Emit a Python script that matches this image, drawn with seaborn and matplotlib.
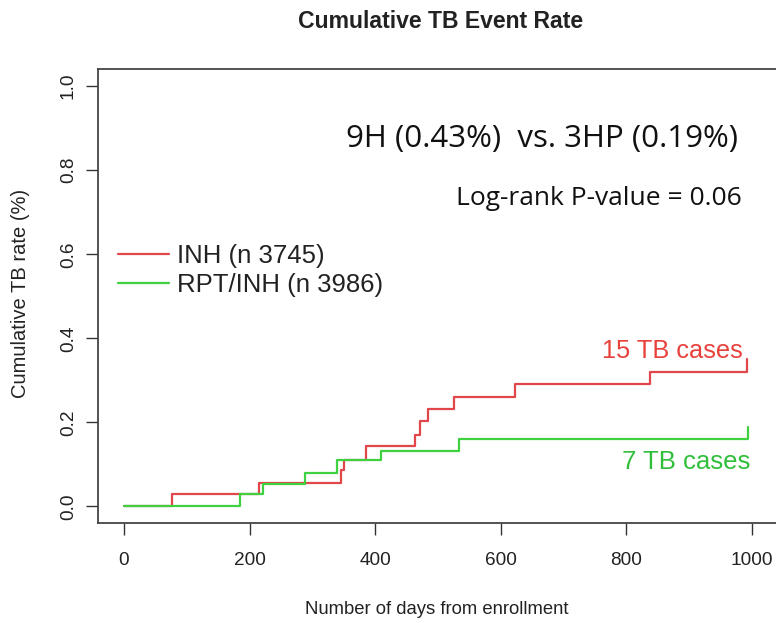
import numpy as np
import pandas as pd
import matplotlib
matplotlib.use("Agg")
import matplotlib.pyplot as plt
import seaborn as sns

# ---- data ----
inh_days = [0, 76, 215, 346, 350, 385, 463, 472, 484, 526, 622, 837, 992]
inh_rate = [0.0, 0.029, 0.056, 0.086, 0.111, 0.145, 0.171, 0.203, 0.233, 0.260, 0.292, 0.321, 0.352]
rpt_days = [0, 185, 222, 288, 339, 410, 534, 993]
rpt_rate = [0.0, 0.029, 0.054, 0.079, 0.110, 0.133, 0.161, 0.190]
group_labels = ["INH (n 3745)", "RPT/INH (n 3986)"]
x_ticks = [0, 200, 400, 600, 800, 1000]
y_ticks = [0.0, 0.2, 0.4, 0.6, 0.8, 1.0]
y_ticklabels = ["0.0", "0.2", "0.4", "0.6", "0.8", "1.0"]

df = pd.concat([
    pd.DataFrame({"day": inh_days, "rate": inh_rate, "group": group_labels[0]}),
    pd.DataFrame({"day": rpt_days, "rate": rpt_rate, "group": group_labels[1]}),
], ignore_index=True)

RED = "#e0464a"
GREEN = "#3fd13f"
RED_TXT = "#e8413c"
GREEN_TXT = "#2fbf3a"

sns.set_style("white")
plt.rcParams["font.family"] = ["Liberation Sans", "DejaVu Sans"]

W, H = 776, 623
fig = plt.figure(figsize=(W / 100, H / 100), dpi=100)
# axes box in pixels: left 98.3, right 777, top 69.3, bottom 523.3
ax = fig.add_axes([98.3 / W, (H - 523.3) / H, (777.1 - 98.3) / W, (523.3 - 69.3) / H])

sns.lineplot(data=df, x="day", y="rate", hue="group", palette=[RED, GREEN],
             estimator=None, sort=False, drawstyle="steps-post", linewidth=1.6,
             ax=ax)

ax.set_xlim(-41, 1040)
ax.set_ylim(-0.04, 1.04)
ax.set_xticks(x_ticks)
ax.set_xticklabels([str(v) for v in x_ticks])
ax.set_yticks(y_ticks)
ax.set_yticklabels(y_ticklabels, rotation=90, va="center")
ax.tick_params(axis="both", which="major", bottom=True, left=True, direction="out",
               length=8.5, width=1.0, color="#333333",
               labelsize=13.7, labelcolor="#222222")
ax.tick_params(axis="x", pad=12)
ax.tick_params(axis="y", pad=7)
ax.set_xlabel("")
ax.set_ylabel("")
for s in ax.spines.values():
    s.set_color("#444444")
    s.set_linewidth(1.3)
ax.spines["right"].set_visible(False)

leg = ax.legend(loc="upper left", bbox_to_anchor=(118 / W, (H - 244) / H),
                bbox_transform=fig.transFigure, frameon=False, fontsize=18.5,
                handlelength=2.0, handletextpad=0.3, labelspacing=0.18,
                borderpad=0, borderaxespad=0)
for t in leg.get_texts():
    t.set_color("#222222")

# annotations
ax.text(978, 0.855, "9H (0.43%)  vs. 3HP (0.19%)", ha="right", va="baseline",
        fontsize=22.5, family=["Open Sans", "DejaVu Sans"], color="#111111")
ax.text(984, 0.718, "Log-rank P-value = 0.06", ha="right", va="baseline",
        fontsize=19, family=["Open Sans", "DejaVu Sans"], color="#111111")
ax.text(986, 0.354, "15 TB cases", ha="right", va="baseline", fontsize=18.3, color=RED_TXT)
ax.text(997, 0.088, "7 TB cases", ha="right", va="baseline", fontsize=18.5, color=GREEN_TXT)

fig.text(441 / W, 1 - 28 / H, "Cumulative TB Event Rate", ha="center", va="baseline",
         fontsize=16.6, fontweight="bold", color="#222222")
fig.text(437 / W, 1 - 610 / H, "Number of days from enrollment", ha="center", va="center",
         fontsize=13.3, color="#222222")
fig.text(21 / W, 1 - 293 / H, "Cumulative TB rate (%)", ha="center", va="center",
         rotation=90, fontsize=14.5, color="#222222")

fig.savefig("out.png", dpi=100)
